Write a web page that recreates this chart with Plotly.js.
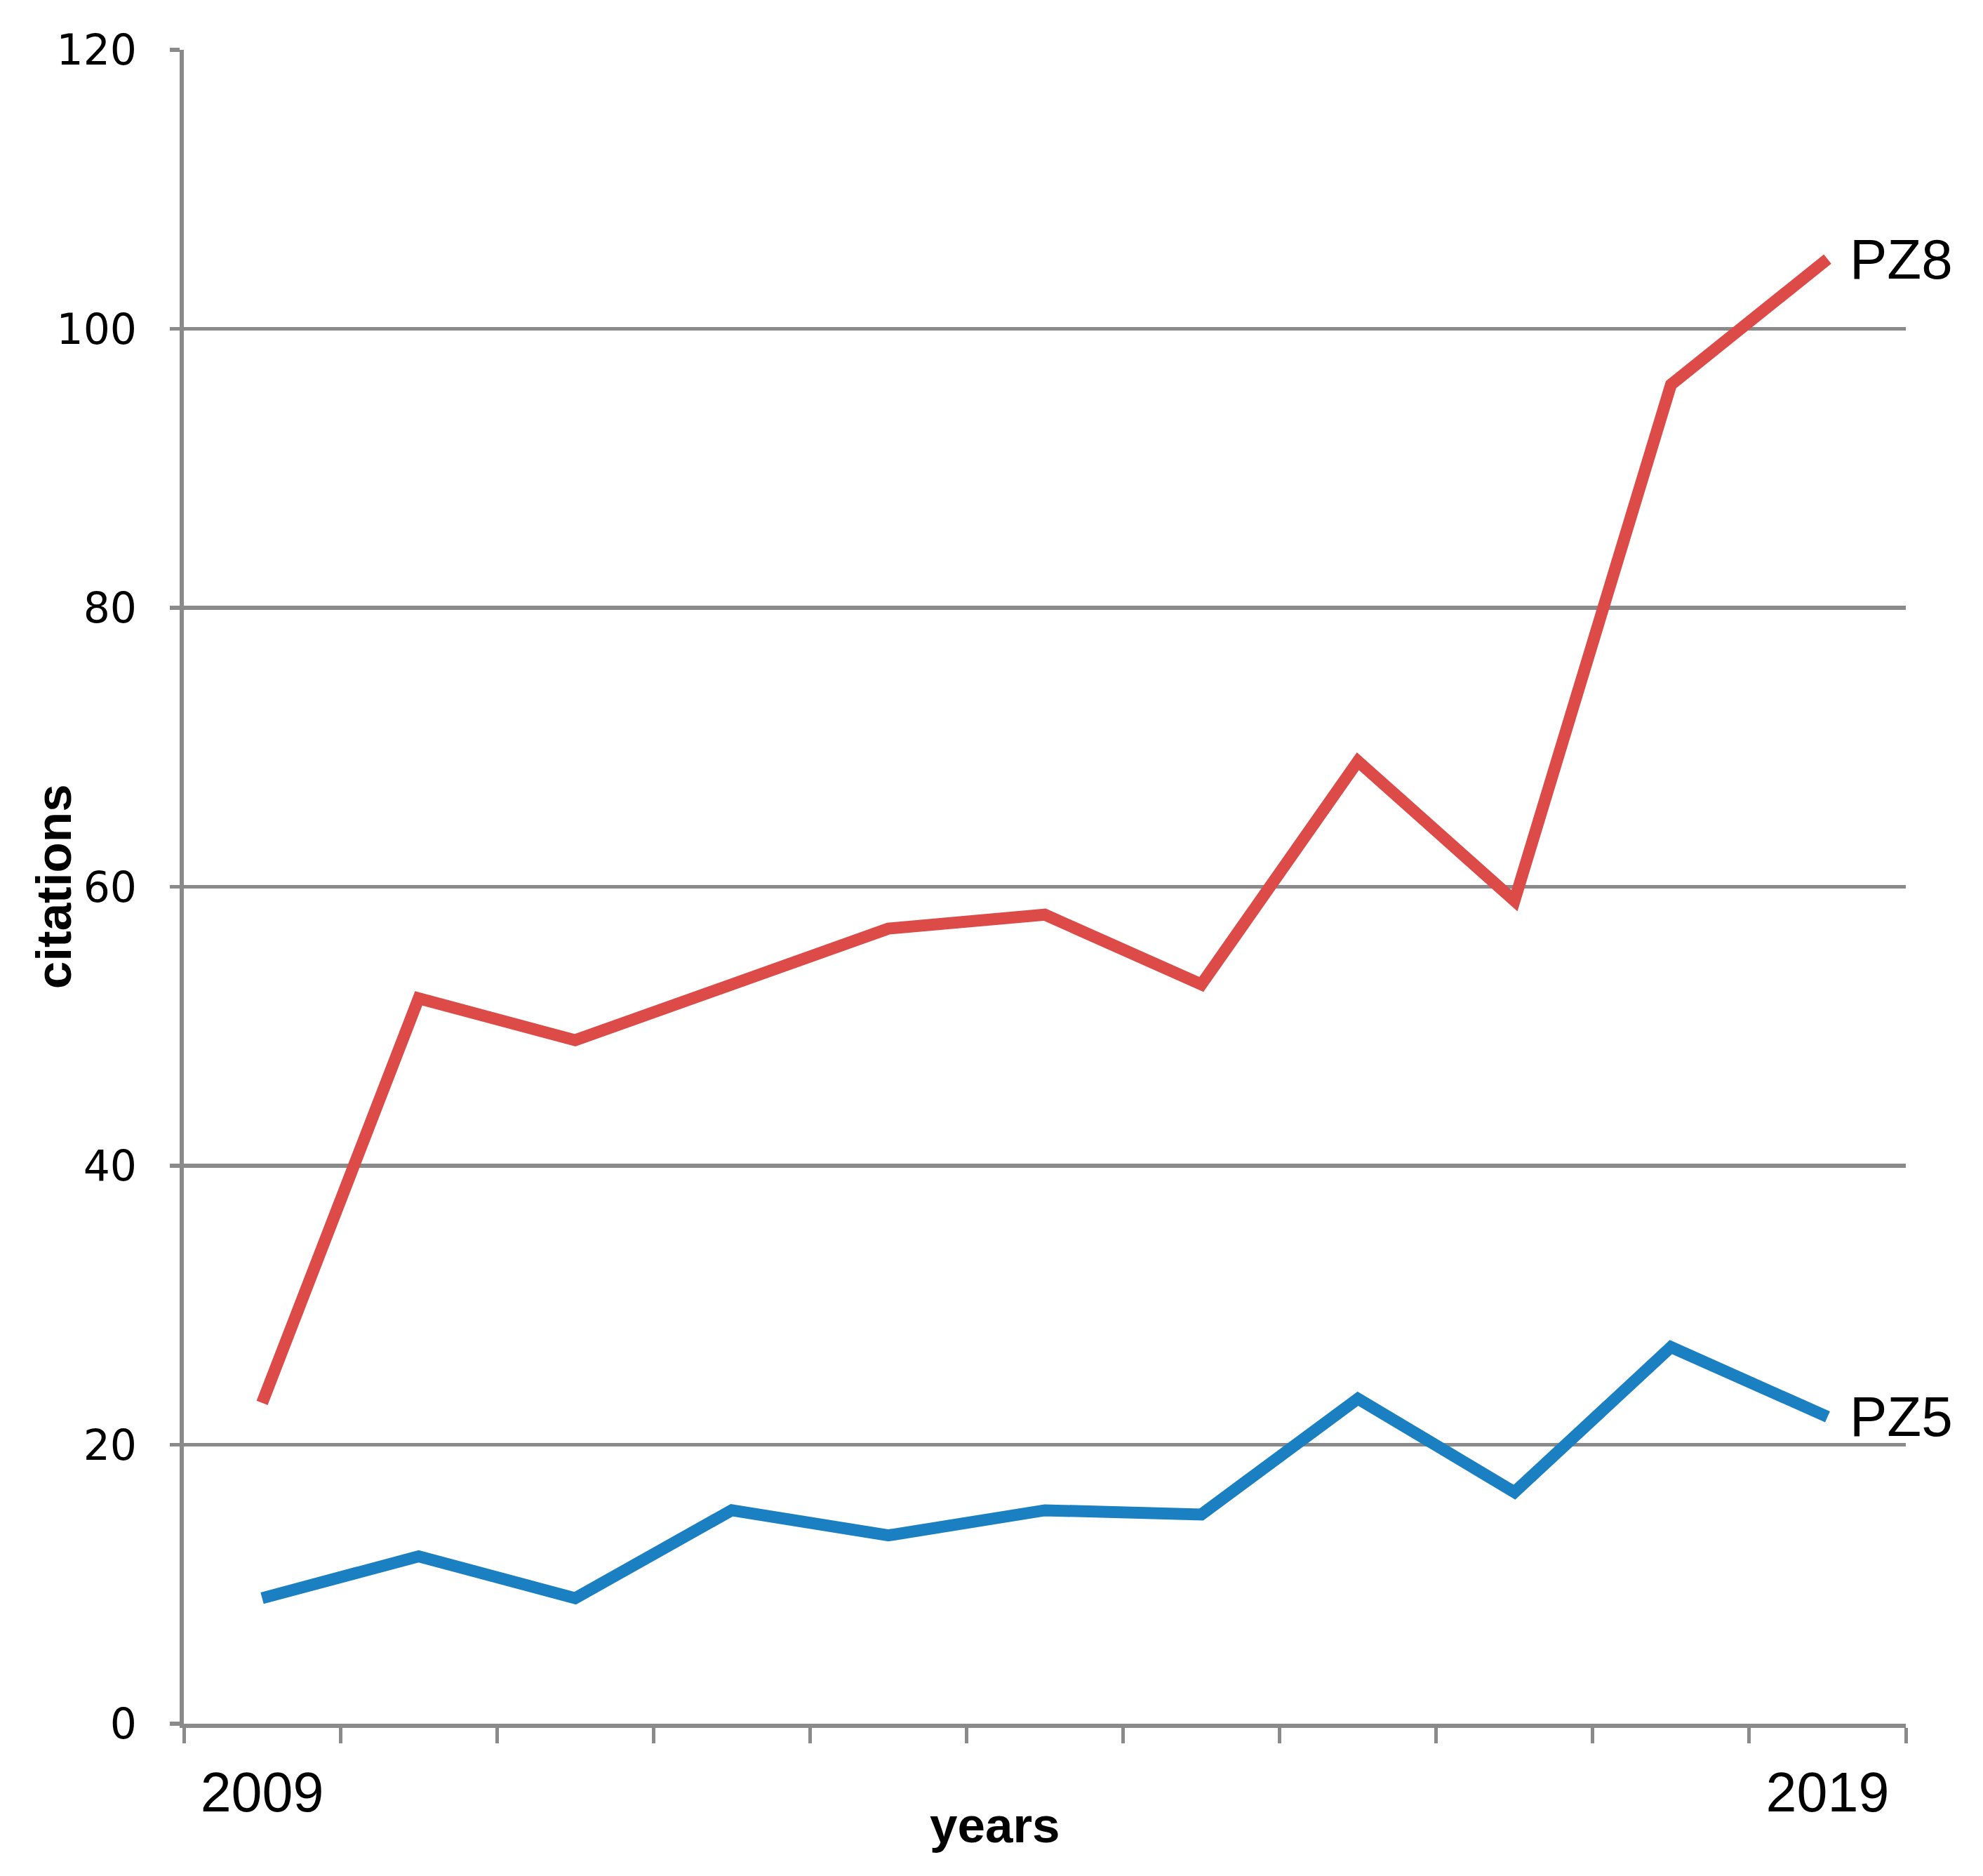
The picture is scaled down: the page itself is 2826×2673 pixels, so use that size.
<!DOCTYPE html>
<html>
<head>
<meta charset="utf-8">
<script src="https://cdn.plot.ly/plotly-3.0.1.min.js"></script>
<style>
  html, body { margin: 0; padding: 0; background: #fff; }
  #chart { width: 2826px; height: 2673px; }
</style>
</head>
<body>
<div id="chart"></div>
<script>
// citations per year
const years = [2009, 2010, 2011, 2012, 2013, 2014, 2015, 2016, 2017, 2018, 2019];
const pz8 = [23, 52, 49, 53, 57, 58, 53, 69, 59, 96, 105];
const pz5 = [9, 12, 9, 15.3, 13.5, 15.3, 15, 23.3, 16.6, 27, 22];
const yTicks = [0, 20, 40, 60, 80, 100, 120];
const xLabelYears = [2009, 2019];

const gray = '#8a8a8a';
const last = years.length - 1;

// tick marks sit between the years
const boundaries = years.map(y => y - 0.5).concat([years[last] + 0.5]);

function seriesTrace(values, name, color) {
    return {
        x: years,
        y: values,
        mode: 'lines',
        type: 'scatter',
        name: name,
        line: { color: color, width: 17 },
        hoverinfo: 'x+y'
    };
}

function endLabel(text, value) {
    return {
        x: years[last], y: value, xref: 'x', yref: 'y',
        text: text, showarrow: false,
        xanchor: 'left', yanchor: 'middle', xshift: 30,
        font: { family: 'Liberation Sans, Arial, sans-serif', size: 80, color: '#000' }
    };
}

const titleFont = { family: 'Liberation Sans, Arial, sans-serif', size: 71, color: '#000', weight: 'bold' };

Plotly.newPlot('chart', [
    seriesTrace(pz8, 'PZ8', '#dd4b48'),
    seriesTrace(pz5, 'PZ5', '#1a80c2')
], {
    width: 2826,
    height: 2673,
    margin: { l: 262, r: 110, t: 71, b: 217 },
    paper_bgcolor: '#fff',
    plot_bgcolor: '#fff',
    showlegend: false,
    xaxis: {
        range: [boundaries[0], boundaries[boundaries.length - 1]],
        tickmode: 'array',
        tickvals: xLabelYears,
        ticktext: xLabelYears.map(String),
        ticks: '',
        ticklabelstandoff: 24,
        tickfont: { family: 'Liberation Sans, Arial, sans-serif', size: 79, color: '#000' },
        showgrid: false,
        zeroline: false,
        showline: true,
        linecolor: gray,
        linewidth: 6,
        minor: {
            tickmode: 'array',
            tickvals: boundaries,
            ticks: 'outside',
            ticklen: 22,
            tickwidth: 5,
            tickcolor: gray,
            showgrid: false
        }
    },
    yaxis: {
        range: [0, 120],
        tickmode: 'array',
        tickvals: yTicks,
        ticks: 'outside',
        ticklen: 14,
        tickwidth: 5.5,
        tickcolor: gray,
        ticklabelstandoff: 35,
        tickfont: { family: 'DejaVu Sans, Verdana, sans-serif', size: 60, color: '#000' },
        showgrid: true,
        gridcolor: gray,
        gridwidth: 5.5,
        zeroline: false,
        showline: true,
        linecolor: gray,
        linewidth: 6
    },
    annotations: [
        endLabel('PZ8', pz8[last]),
        endLabel('PZ5', pz5[last]),
        {
            text: 'citations', textangle: -90, showarrow: false,
            xref: 'paper', yref: 'paper', x: -0.0755, y: 0.5,
            xanchor: 'center', yanchor: 'middle', font: titleFont
        },
        {
            text: 'years', showarrow: false,
            xref: 'paper', yref: 'paper', x: 0.471, y: -0.0605,
            xanchor: 'center', yanchor: 'middle', font: titleFont
        }
    ]
}, { displayModeBar: false, staticPlot: true });
</script>
</body>
</html>
